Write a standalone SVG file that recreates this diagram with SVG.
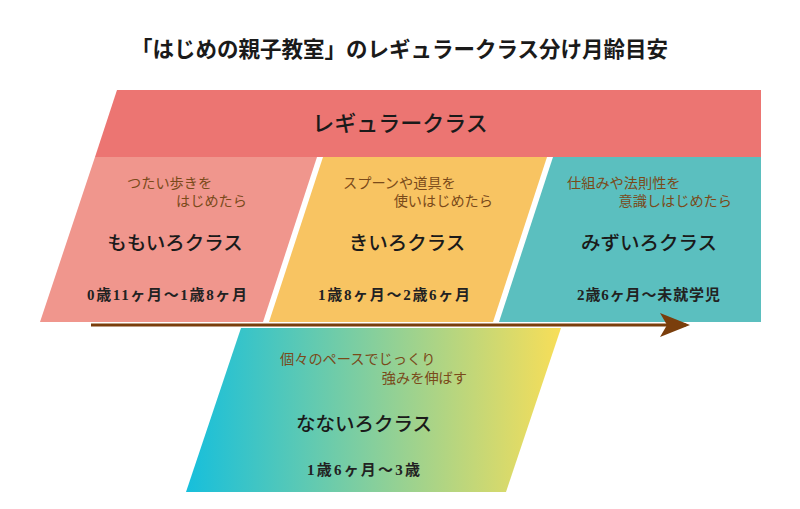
<svg xmlns="http://www.w3.org/2000/svg" width="800" height="509" viewBox="0 0 800 509">
<defs>
<linearGradient id="g7" x1="186" y1="0" x2="561" y2="0" gradientUnits="userSpaceOnUse">
<stop offset="0" stop-color="#16BFDC"/>
<stop offset="0.5" stop-color="#86CF9C"/>
<stop offset="1" stop-color="#F8DE58"/>
</linearGradient>
<marker id="ah" viewBox="0 0 30 24" refX="26" refY="12" markerWidth="30" markerHeight="24" markerUnits="userSpaceOnUse" orient="auto">
<path d="M0,0 L30,12 L0,24 L7,12 Z" fill="#7A3E0C"/>
</marker>
<style>
.g{font-family:"Noto Sans CJK JP","Noto Sans",sans-serif;}
.t{font-size:21.5px;font-weight:bold;fill:#1a1a1a;}
.h{font-size:22px;font-weight:500;fill:#1a1a1a;}
.n{font-size:19.5px;font-weight:500;fill:#1a1a1a;}
.s{font-size:14.2px;fill:#7A4A1A;}
.d{font-family:"Liberation Serif","Noto Sans CJK JP",serif;font-size:15px;font-weight:bold;fill:#222;}
</style>
</defs>
<rect width="800" height="509" fill="#ffffff"/>
<text class="g t" x="131" y="57" textLength="537" lengthAdjust="spacingAndGlyphs">「はじめの親子教室」のレギュラークラス分け月齢目安</text>

<g id="regular">
<polygon points="117,90 761,90 761,157 95,157" fill="#EC7572"/>
<text class="g h" x="400" y="131" text-anchor="middle">レギュラークラス</text>
</g>

<g id="momoiro">
<polygon points="95,157 317,157 263,322 40,322" fill="#F0968D"/>
<text class="g s" x="127" y="188">つたい歩きを</text>
<text class="g s" x="247" y="206" text-anchor="end">はじめたら</text>
<text class="g n" x="175" y="250" text-anchor="middle">ももいろクラス</text>
<text class="d" x="87" y="300" textLength="160" lengthAdjust="spacing">0歳11ヶ月〜1歳8ヶ月</text>
</g>

<g id="kiiro">
<polygon points="323,157 547,157 493,322 269,322" fill="#F8C462"/>
<text class="g s" x="343" y="188">スプーンや道具を</text>
<text class="g s" x="493" y="206" text-anchor="end">使いはじめたら</text>
<text class="g n" x="407" y="250" text-anchor="middle">きいろクラス</text>
<text class="d" x="318" y="300" textLength="152" lengthAdjust="spacing">1歳8ヶ月〜2歳6ヶ月</text>
</g>

<g id="mizuiro">
<polygon points="553,157 761,157 761,322 499,322" fill="#5BBFBF"/>
<text class="g s" x="567" y="188">仕組みや法則性を</text>
<text class="g s" x="732" y="206" text-anchor="end">意識しはじめたら</text>
<text class="g n" x="649" y="250" text-anchor="middle">みずいろクラス</text>
<text class="d" x="577" y="300" textLength="143" lengthAdjust="spacing">2歳6ヶ月〜未就学児</text>
</g>

<g id="connectors">
<line x1="91" y1="325" x2="686" y2="325" stroke="#7A3E0C" stroke-width="3" marker-end="url(#ah)"/>
</g>

<g id="nanairo">
<polygon points="241,328 561,328 506,492 186,492" fill="url(#g7)"/>
<text class="g s" x="280" y="364">個々のペースでじっくり</text>
<text class="g s" x="467" y="383" text-anchor="end">強みを伸ばす</text>
<text class="g n" x="364" y="431" text-anchor="middle">なないろクラス</text>
<text class="d" x="307" y="475" textLength="113" lengthAdjust="spacing">1歳6ヶ月〜3歳</text>
</g>
</svg>
